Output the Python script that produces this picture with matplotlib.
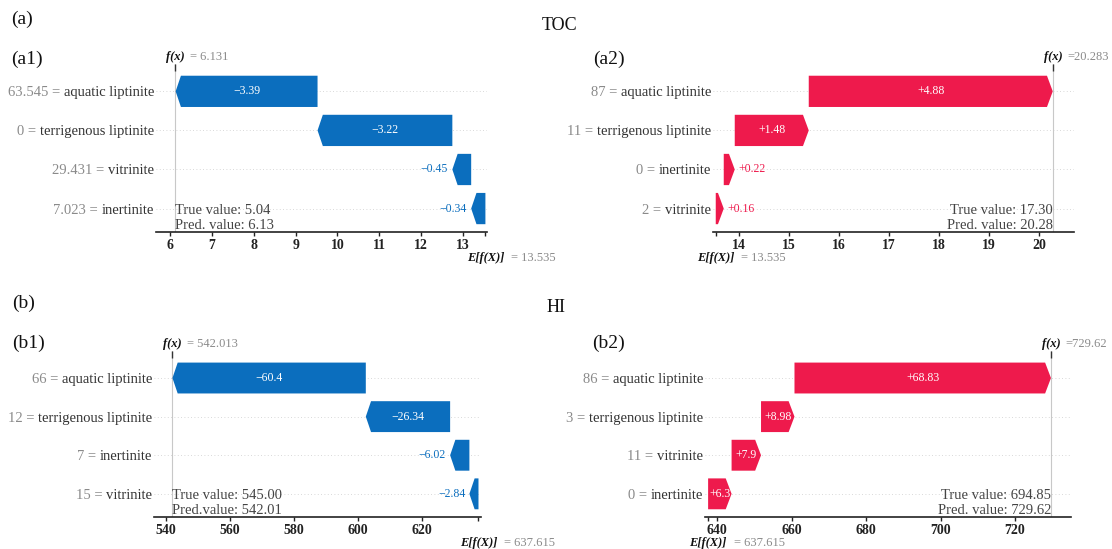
import matplotlib
matplotlib.use("Agg")
import matplotlib.pyplot as plt
import numpy as np

plt.rcParams['font.family'] = ['Liberation Serif', 'DejaVu Serif']

# ---- data ----
# TOC
toc_base = 13.535
a1_names = ["aquatic liptinite", "terrigenous liptinite", "vitrinite", "inertinite"]
a1_feat = ["63.545", "0", "29.431", "7.023"]
a1_shap = [-3.39, -3.22, -0.45, -0.34]
a1_fx = 6.131
a1_note = "True value: 5.04\nPred. value: 6.13"
a1_ticks = [6, 7, 8, 9, 10, 11, 12, 13]

a2_names = ["aquatic liptinite", "terrigenous liptinite", "inertinite", "vitrinite"]
a2_feat = ["87", "11", "0", "2"]
a2_shap = [4.88, 1.48, 0.22, 0.16]
a2_fx = 20.283
a2_note = "True value: 17.30\nPred. value: 20.28"
a2_ticks = [14, 15, 16, 17, 18, 19, 20]

# HI
hi_base = 637.615
b1_names = ["aquatic liptinite", "terrigenous liptinite", "inertinite", "vitrinite"]
b1_feat = ["66", "12", "7", "15"]
b1_shap = [-60.4, -26.34, -6.02, -2.84]
b1_fx = 542.013
b1_note = "True value: 545.00\nPred.value: 542.01"
b1_ticks = [540, 560, 580, 600, 620]

b2_names = ["aquatic liptinite", "terrigenous liptinite", "vitrinite", "inertinite"]
b2_feat = ["86", "3", "11", "0"]
b2_shap = [68.83, 8.98, 7.9, 6.3]
b2_fx = 729.62
b2_note = "True value: 694.85\nPred. value: 729.62"
b2_ticks = [640, 660, 680, 700, 720]

BLUE = "#0B6EBE"
RED = "#EE1A4C"
W, H = 1112, 549


def fmt_shap(v):
    s = f"{v:+.2f}".rstrip("0").rstrip(".")
    return s.replace("-", "\u2212")


def fmt_val(v):
    return f"{v:.3f}".rstrip("0").rstrip(".")


def px_axes(fig, x0, x1, ytop, ybot):
    return fig.add_axes([x0 / W, 1 - ybot / H, (x1 - x0) / W, (ybot - ytop) / H])


def waterfall(ax, names, feat, shap_vals, base, fx, note, ticks, xlim,
              note_right=False, eq_sep=" "):
    n = len(names)
    rows = np.arange(n)[::-1]
    ax.set_xlim(*xlim)
    ax.set_ylim(-0.6, n - 0.3)
    bh = 0.8
    head = 0.016 * (xlim[1] - xlim[0])
    renderer = ax.figure.canvas.get_renderer()

    for r in rows:
        ax.axhline(r, color="#cccccc", lw=0.6, dashes=(1, 3), zorder=0)
    ax.axvline(fx, color="#c8c8c8", lw=0.8, zorder=0)

    start = base
    for i in range(n - 1, -1, -1):
        w = shap_vals[i]
        end = start + w
        y = rows[i]
        sgn = 1 if w > 0 else -1
        hl = min(head, abs(w))
        color = RED if w > 0 else BLUE
        xs = [start, end - sgn * hl, end, end - sgn * hl, start]
        ys = [y - bh / 2, y - bh / 2, y, y + bh / 2, y + bh / 2]
        ax.fill(xs, ys, color=color, lw=0, zorder=2)

        label = fmt_shap(w)
        t = ax.text((start + end) / 2, y, label, color="white", ha="center",
                    va="center", fontsize=8.5, zorder=3)
        tw = t.get_window_extent(renderer).width
        bw = abs(ax.transData.transform((end, 0))[0] - ax.transData.transform((start, 0))[0])
        if tw >= bw:
            t.remove()
            ax.annotate(label, xy=(end, y), xytext=(sgn * 3, 0), textcoords="offset points",
                        ha="left" if w > 0 else "right", va="center", color=color,
                        fontsize=8.5, zorder=3)
        start = end

    # y labels: feature name in dark, feature value in gray to its left
    ax.set_yticks(rows)
    ax.set_yticklabels(names, fontsize=10.5, color="#333333")
    ax.tick_params(axis="y", length=0, pad=1.5)
    for lab, v in zip(ax.get_yticklabels(), feat):
        ax.annotate(f"{v} = ", xy=(0, 0.5), xycoords=lab, ha="right", va="center",
                    fontsize=10.5, color="#8a8a8a")

    ax.set_xticks(ticks)
    ax.set_xticklabels([str(t) for t in ticks], fontsize=10, fontweight="bold", color="#222222")
    ax.set_xticks([base], minor=True)
    ax.tick_params(axis="x", which="both", length=3, width=1, pad=2, color="#222222")

    for s in ["left", "top", "right"]:
        ax.spines[s].set_visible(False)
    ax.spines["bottom"].set_linewidth(1.2)
    ax.spines["bottom"].set_color("#222222")

    top = ax.secondary_xaxis("top")
    top.set_xticks([fx], labels=[""])
    top.tick_params(direction="in", length=5, width=1, color="#333333")
    for s in top.spines.values():
        s.set_visible(False)

    # f(x) label above, E[f(X)] label below
    ft = ax.annotate("f(x)", xy=(fx, 1), xycoords=("data", "axes fraction"),
                     xytext=(0, 5), textcoords="offset points", ha="center", va="center",
                     fontsize=9, fontweight="bold", fontstyle="italic", color="#111111")
    ax.annotate("=" + eq_sep + fmt_val(fx), xy=(1, 0.5), xycoords=ft, xytext=(3.5, 0),
                textcoords="offset points", ha="left", va="center", fontsize=9, color="#8a8a8a")
    et = ax.annotate("E[f(X)]", xy=(base, 0), xycoords=("data", "axes fraction"),
                     xytext=(0, -19), textcoords="offset points", ha="center", va="center",
                     fontsize=9, fontweight="bold", fontstyle="italic", color="#111111")
    ax.annotate("= " + fmt_val(base), xy=(1, 0.5), xycoords=et, xytext=(5, 0),
                textcoords="offset points", ha="left", va="center", fontsize=9, color="#8a8a8a")

    ax.text(fx, 0.0, note, transform=ax.get_xaxis_transform(),
            ha="right" if note_right else "left", va="bottom",
            fontsize=10.5, color="#444444", linespacing=1.2, zorder=4)


fig = plt.figure(figsize=(W / 100, H / 100), dpi=100)

ax_a1 = px_axes(fig, 156, 487, 64, 232)
ax_a2 = px_axes(fig, 713, 1074, 64, 232)
ax_b1 = px_axes(fig, 154, 481, 351, 517)
ax_b2 = px_axes(fig, 705, 1071, 351, 517)

waterfall(ax_a1, a1_names, a1_feat, a1_shap, toc_base, a1_fx, a1_note, a1_ticks, (5.666, 13.573))
waterfall(ax_a2, a2_names, a2_feat, a2_shap, toc_base, a2_fx, a2_note, a2_ticks, (13.48, 20.70),
          note_right=True, eq_sep="")
waterfall(ax_b1, b1_names, b1_feat, b1_shap, hi_base, b1_fx, b1_note, b1_ticks, (536.25, 638.4))
waterfall(ax_b2, b2_names, b2_feat, b2_shap, hi_base, b2_fx, b2_note, b2_ticks, (636.78, 735.0),
          note_right=True, eq_sep="")


def fig_text(x, y, s, size, ha="left"):
    fig.text(x / W, 1 - y / H, s, ha=ha, va="center", fontsize=size, color="#111111")


fig_text(11, 19, "(a)", 14)
fig_text(560, 25, "TOC", 13, ha="center")
fig_text(11, 59, "(a1)", 14)
fig_text(593, 59, "(a2)", 14)
fig_text(12, 303, "(b)", 14)
fig_text(556, 308, "HI", 13, ha="center")
fig_text(12, 343, "(b1)", 14)
fig_text(592, 343, "(b2)", 14)

fig.savefig("out.png", dpi=100)
